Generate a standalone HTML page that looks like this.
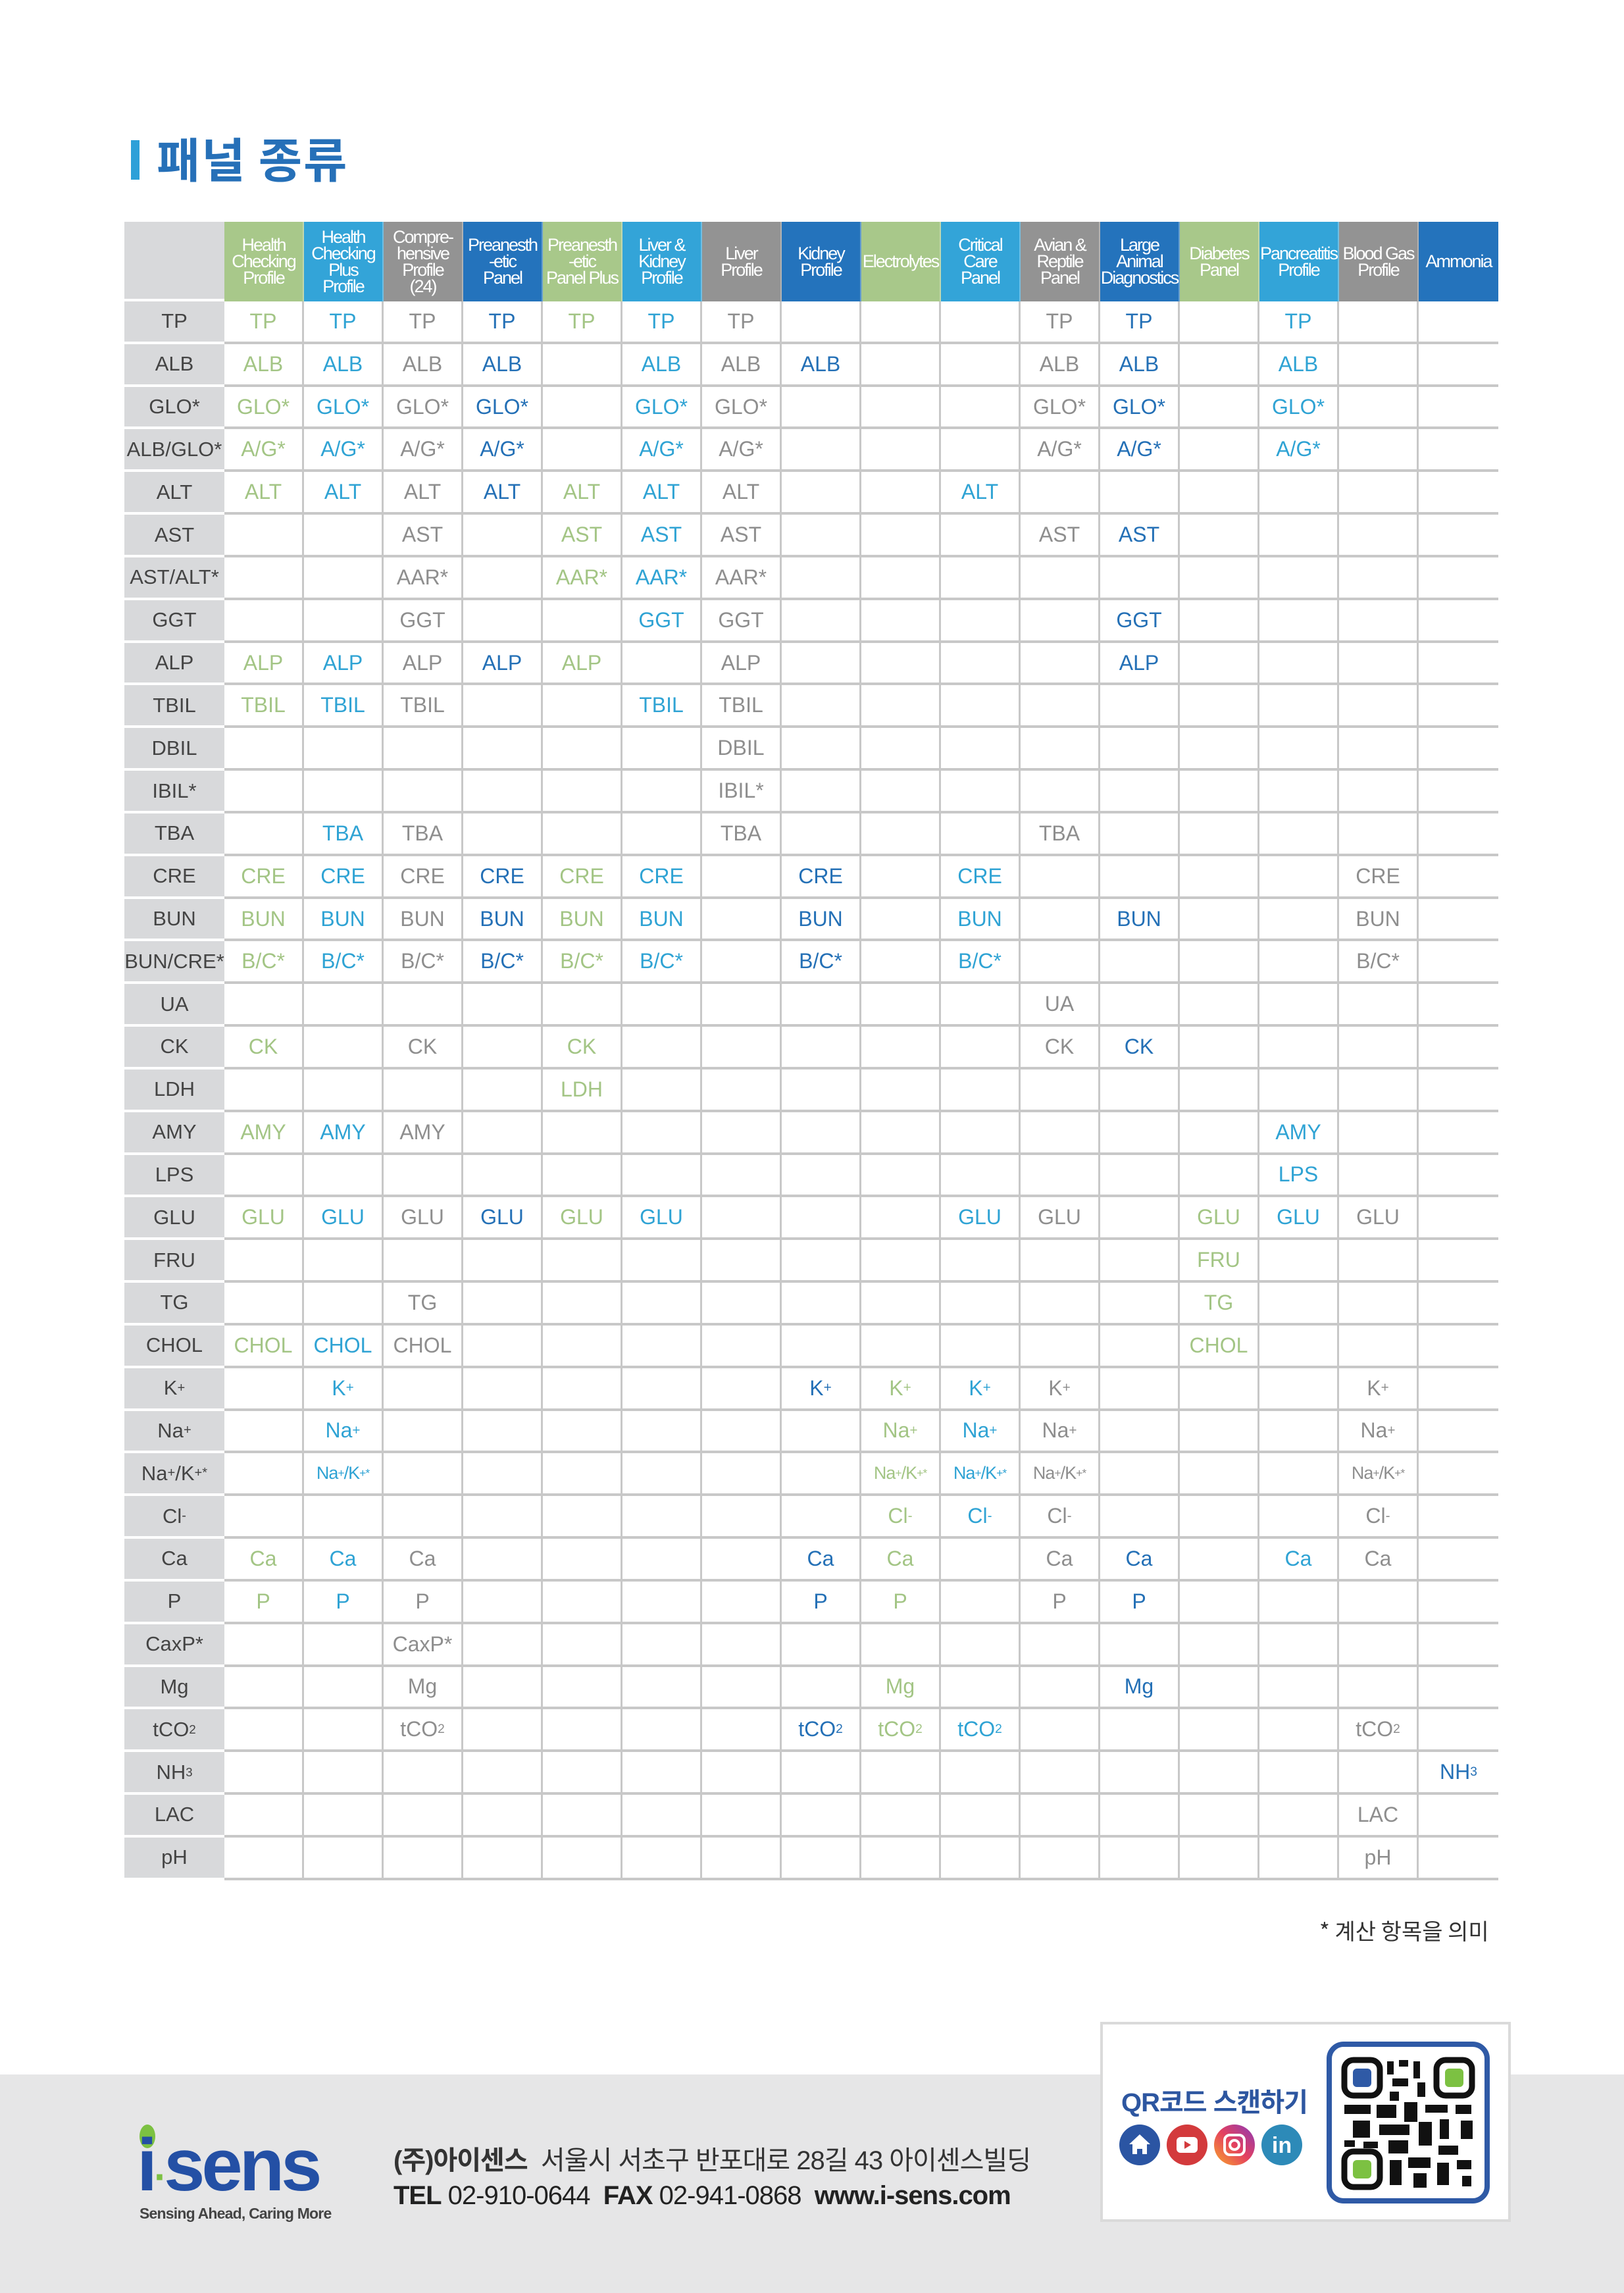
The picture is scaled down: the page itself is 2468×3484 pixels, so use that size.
<!DOCTYPE html>
<html><head><meta charset="utf-8">
<style>
*{margin:0;padding:0;box-sizing:border-box}
body{width:2468px;height:3484px;background:#fff;position:relative;overflow:hidden;font-family:"Liberation Sans","Noto Sans CJK KR",sans-serif}
.bar{position:absolute;left:199px;top:213px;width:13px;height:60px;background:#2ea0d8}
.title{position:absolute;left:238px;top:194px;font-size:72px;font-weight:bold;color:#2670b8;letter-spacing:2px;font-family:"Noto Sans CJK KR",sans-serif;line-height:90px}
.g{position:absolute;left:189px;top:337px;display:grid;grid-template-columns:152px repeat(16,121px);grid-template-rows:121px repeat(37,64.84px)}
.g>*{display:flex;align-items:center;justify-content:center;font-style:normal;font-weight:normal;font-size:32px;border-right:3px solid #c8c8c8;border-bottom:4px solid #c8c8c8;text-align:center;white-space:nowrap}
.g>*:nth-child(17n){border-right:0}
.g>b{background:#d8d9db;color:#444;border-right:0;border-bottom:4px solid #fff;font-size:31px}
.g>u{text-decoration:none;color:#fff;font-size:27px;line-height:25px;letter-spacing:-2px;border-right:2px solid rgba(255,255,255,.3);border-bottom:0;white-space:nowrap;padding:0}
.hg{background:#a8c88a}.hl{background:#33a4d8}.hy{background:#939393}.hd{background:#2473bc}
.c1{color:#a3c585}.c2{color:#2fa3d4}.c3{color:#8e8e8e}.c4{color:#2470b6}
.s{font-size:27px!important;letter-spacing:-1px}
sup{font-size:0.65em;vertical-align:0.55em}sub{font-size:0.6em;vertical-align:-0.25em}
.note{position:absolute;left:2005px;top:2908px;font-size:34px;color:#333;font-family:"Noto Sans CJK KR",sans-serif}
.foot{position:absolute;left:0;top:3152px;width:2468px;height:332px;background:#e6e6e7}
.qrbox{position:absolute;left:1672px;top:3072px;width:624px;height:304px;background:#fff;border:4px solid #dadada}
</style></head><body>
<div class="bar"></div>
<div class="title">패널 종류</div>
<div class="g">
<b></b>
<u class="hg">Health<br>Checking<br>Profile</u>
<u class="hl">Health<br>Checking<br>Plus<br>Profile</u>
<u class="hy">Compre-<br>hensive<br>Profile<br>(24)</u>
<u class="hd">Preanesth<br>-etic<br>Panel</u>
<u class="hg">Preanesth<br>-etic<br>Panel Plus</u>
<u class="hl">Liver &amp;<br>Kidney<br>Profile</u>
<u class="hy">Liver<br>Profile</u>
<u class="hd">Kidney<br>Profile</u>
<u class="hg">Electrolytes</u>
<u class="hl">Critical<br>Care<br>Panel</u>
<u class="hy">Avian &amp;<br>Reptile<br>Panel</u>
<u class="hd">Large<br>Animal<br>Diagnostics</u>
<u class="hg">Diabetes<br>Panel</u>
<u class="hl">Pancreatitis<br>Profile</u>
<u class="hy">Blood Gas<br>Profile</u>
<u class="hd">Ammonia</u>

<b>TP</b><i class=c1>TP</i><i class=c2>TP</i><i class=c3>TP</i><i class=c4>TP</i><i class=c1>TP</i><i class=c2>TP</i><i class=c3>TP</i><i></i><i></i><i></i><i class=c3>TP</i><i class=c4>TP</i><i></i><i class=c2>TP</i><i></i><i></i>
<b>ALB</b><i class=c1>ALB</i><i class=c2>ALB</i><i class=c3>ALB</i><i class=c4>ALB</i><i></i><i class=c2>ALB</i><i class=c3>ALB</i><i class=c4>ALB</i><i></i><i></i><i class=c3>ALB</i><i class=c4>ALB</i><i></i><i class=c2>ALB</i><i></i><i></i>
<b>GLO*</b><i class=c1>GLO*</i><i class=c2>GLO*</i><i class=c3>GLO*</i><i class=c4>GLO*</i><i></i><i class=c2>GLO*</i><i class=c3>GLO*</i><i></i><i></i><i></i><i class=c3>GLO*</i><i class=c4>GLO*</i><i></i><i class=c2>GLO*</i><i></i><i></i>
<b>ALB/GLO*</b><i class=c1>A/G*</i><i class=c2>A/G*</i><i class=c3>A/G*</i><i class=c4>A/G*</i><i></i><i class=c2>A/G*</i><i class=c3>A/G*</i><i></i><i></i><i></i><i class=c3>A/G*</i><i class=c4>A/G*</i><i></i><i class=c2>A/G*</i><i></i><i></i>
<b>ALT</b><i class=c1>ALT</i><i class=c2>ALT</i><i class=c3>ALT</i><i class=c4>ALT</i><i class=c1>ALT</i><i class=c2>ALT</i><i class=c3>ALT</i><i></i><i></i><i class=c2>ALT</i><i></i><i></i><i></i><i></i><i></i><i></i>
<b>AST</b><i></i><i></i><i class=c3>AST</i><i></i><i class=c1>AST</i><i class=c2>AST</i><i class=c3>AST</i><i></i><i></i><i></i><i class=c3>AST</i><i class=c4>AST</i><i></i><i></i><i></i><i></i>
<b>AST/ALT*</b><i></i><i></i><i class=c3>AAR*</i><i></i><i class=c1>AAR*</i><i class=c2>AAR*</i><i class=c3>AAR*</i><i></i><i></i><i></i><i></i><i></i><i></i><i></i><i></i><i></i>
<b>GGT</b><i></i><i></i><i class=c3>GGT</i><i></i><i></i><i class=c2>GGT</i><i class=c3>GGT</i><i></i><i></i><i></i><i></i><i class=c4>GGT</i><i></i><i></i><i></i><i></i>
<b>ALP</b><i class=c1>ALP</i><i class=c2>ALP</i><i class=c3>ALP</i><i class=c4>ALP</i><i class=c1>ALP</i><i></i><i class=c3>ALP</i><i></i><i></i><i></i><i></i><i class=c4>ALP</i><i></i><i></i><i></i><i></i>
<b>TBIL</b><i class=c1>TBIL</i><i class=c2>TBIL</i><i class=c3>TBIL</i><i></i><i></i><i class=c2>TBIL</i><i class=c3>TBIL</i><i></i><i></i><i></i><i></i><i></i><i></i><i></i><i></i><i></i>
<b>DBIL</b><i></i><i></i><i></i><i></i><i></i><i></i><i class=c3>DBIL</i><i></i><i></i><i></i><i></i><i></i><i></i><i></i><i></i><i></i>
<b>IBIL*</b><i></i><i></i><i></i><i></i><i></i><i></i><i class=c3>IBIL*</i><i></i><i></i><i></i><i></i><i></i><i></i><i></i><i></i><i></i>
<b>TBA</b><i></i><i class=c2>TBA</i><i class=c3>TBA</i><i></i><i></i><i></i><i class=c3>TBA</i><i></i><i></i><i></i><i class=c3>TBA</i><i></i><i></i><i></i><i></i><i></i>
<b>CRE</b><i class=c1>CRE</i><i class=c2>CRE</i><i class=c3>CRE</i><i class=c4>CRE</i><i class=c1>CRE</i><i class=c2>CRE</i><i></i><i class=c4>CRE</i><i></i><i class=c2>CRE</i><i></i><i></i><i></i><i></i><i class=c3>CRE</i><i></i>
<b>BUN</b><i class=c1>BUN</i><i class=c2>BUN</i><i class=c3>BUN</i><i class=c4>BUN</i><i class=c1>BUN</i><i class=c2>BUN</i><i></i><i class=c4>BUN</i><i></i><i class=c2>BUN</i><i></i><i class=c4>BUN</i><i></i><i></i><i class=c3>BUN</i><i></i>
<b>BUN/CRE*</b><i class=c1>B/C*</i><i class=c2>B/C*</i><i class=c3>B/C*</i><i class=c4>B/C*</i><i class=c1>B/C*</i><i class=c2>B/C*</i><i></i><i class=c4>B/C*</i><i></i><i class=c2>B/C*</i><i></i><i></i><i></i><i></i><i class=c3>B/C*</i><i></i>
<b>UA</b><i></i><i></i><i></i><i></i><i></i><i></i><i></i><i></i><i></i><i></i><i class=c3>UA</i><i></i><i></i><i></i><i></i><i></i>
<b>CK</b><i class=c1>CK</i><i></i><i class=c3>CK</i><i></i><i class=c1>CK</i><i></i><i></i><i></i><i></i><i></i><i class=c3>CK</i><i class=c4>CK</i><i></i><i></i><i></i><i></i>
<b>LDH</b><i></i><i></i><i></i><i></i><i class=c1>LDH</i><i></i><i></i><i></i><i></i><i></i><i></i><i></i><i></i><i></i><i></i><i></i>
<b>AMY</b><i class=c1>AMY</i><i class=c2>AMY</i><i class=c3>AMY</i><i></i><i></i><i></i><i></i><i></i><i></i><i></i><i></i><i></i><i></i><i class=c2>AMY</i><i></i><i></i>
<b>LPS</b><i></i><i></i><i></i><i></i><i></i><i></i><i></i><i></i><i></i><i></i><i></i><i></i><i></i><i class=c2>LPS</i><i></i><i></i>
<b>GLU</b><i class=c1>GLU</i><i class=c2>GLU</i><i class=c3>GLU</i><i class=c4>GLU</i><i class=c1>GLU</i><i class=c2>GLU</i><i></i><i></i><i></i><i class=c2>GLU</i><i class=c3>GLU</i><i></i><i class=c1>GLU</i><i class=c2>GLU</i><i class=c3>GLU</i><i></i>
<b>FRU</b><i></i><i></i><i></i><i></i><i></i><i></i><i></i><i></i><i></i><i></i><i></i><i></i><i class=c1>FRU</i><i></i><i></i><i></i>
<b>TG</b><i></i><i></i><i class=c3>TG</i><i></i><i></i><i></i><i></i><i></i><i></i><i></i><i></i><i></i><i class=c1>TG</i><i></i><i></i><i></i>
<b>CHOL</b><i class=c1>CHOL</i><i class=c2>CHOL</i><i class=c3>CHOL</i><i></i><i></i><i></i><i></i><i></i><i></i><i></i><i></i><i></i><i class=c1>CHOL</i><i></i><i></i><i></i>
<b>K<sup>+</sup></b><i></i><i class=c2>K<sup>+</sup></i><i></i><i></i><i></i><i></i><i></i><i class=c4>K<sup>+</sup></i><i class=c1>K<sup>+</sup></i><i class=c2>K<sup>+</sup></i><i class=c3>K<sup>+</sup></i><i></i><i></i><i></i><i class=c3>K<sup>+</sup></i><i></i>
<b>Na<sup>+</sup></b><i></i><i class=c2>Na<sup>+</sup></i><i></i><i></i><i></i><i></i><i></i><i></i><i class=c1>Na<sup>+</sup></i><i class=c2>Na<sup>+</sup></i><i class=c3>Na<sup>+</sup></i><i></i><i></i><i></i><i class=c3>Na<sup>+</sup></i><i></i>
<b>Na<sup>+</sup>/K<sup>+*</sup></b><i></i><i class="c2 s">Na<sup>+</sup>/K<sup>+*</sup></i><i></i><i></i><i></i><i></i><i></i><i></i><i class="c1 s">Na<sup>+</sup>/K<sup>+*</sup></i><i class="c2 s">Na<sup>+</sup>/K<sup>+*</sup></i><i class="c3 s">Na<sup>+</sup>/K<sup>+*</sup></i><i></i><i></i><i></i><i class="c3 s">Na<sup>+</sup>/K<sup>+*</sup></i><i></i>
<b>Cl<sup>-</sup></b><i></i><i></i><i></i><i></i><i></i><i></i><i></i><i></i><i class=c1>Cl<sup>-</sup></i><i class=c2>Cl<sup>-</sup></i><i class=c3>Cl<sup>-</sup></i><i></i><i></i><i></i><i class=c3>Cl<sup>-</sup></i><i></i>
<b>Ca</b><i class=c1>Ca</i><i class=c2>Ca</i><i class=c3>Ca</i><i></i><i></i><i></i><i></i><i class=c4>Ca</i><i class=c1>Ca</i><i></i><i class=c3>Ca</i><i class=c4>Ca</i><i></i><i class=c2>Ca</i><i class=c3>Ca</i><i></i>
<b>P</b><i class=c1>P</i><i class=c2>P</i><i class=c3>P</i><i></i><i></i><i></i><i></i><i class=c4>P</i><i class=c1>P</i><i></i><i class=c3>P</i><i class=c4>P</i><i></i><i></i><i></i><i></i>
<b>CaxP*</b><i></i><i></i><i class=c3>CaxP*</i><i></i><i></i><i></i><i></i><i></i><i></i><i></i><i></i><i></i><i></i><i></i><i></i><i></i>
<b>Mg</b><i></i><i></i><i class=c3>Mg</i><i></i><i></i><i></i><i></i><i></i><i class=c1>Mg</i><i></i><i></i><i class=c4>Mg</i><i></i><i></i><i></i><i></i>
<b>tCO<sub>2</sub></b><i></i><i></i><i class=c3>tCO<sub>2</sub></i><i></i><i></i><i></i><i></i><i class=c4>tCO<sub>2</sub></i><i class=c1>tCO<sub>2</sub></i><i class=c2>tCO<sub>2</sub></i><i></i><i></i><i></i><i></i><i class=c3>tCO<sub>2</sub></i><i></i>
<b>NH<sub>3</sub></b><i></i><i></i><i></i><i></i><i></i><i></i><i></i><i></i><i></i><i></i><i></i><i></i><i></i><i></i><i></i><i class=c4>NH<sub>3</sub></i>
<b>LAC</b><i></i><i></i><i></i><i></i><i></i><i></i><i></i><i></i><i></i><i></i><i></i><i></i><i></i><i></i><i class=c3>LAC</i><i></i>
<b>pH</b><i></i><i></i><i></i><i></i><i></i><i></i><i></i><i></i><i></i><i></i><i></i><i></i><i></i><i></i><i class=c3>pH</i><i></i>
</div>
<div class="note">* 계산 항목을 의미</div>

<div class="foot"></div>
<div style="position:absolute;left:212px;top:3228px;width:24px;height:36px;border-radius:50%;background:#7cc142"></div>
<div style="position:absolute;left:208px;top:3234px;font-size:112px;font-weight:bold;color:#2450a5;letter-spacing:-5px;line-height:112px">i<span style="color:#7cc142;font-size:60px">·</span>sens</div>
<div style="position:absolute;left:212px;top:3350px;font-size:23px;font-weight:bold;color:#444;letter-spacing:-0.8px">Sensing Ahead, Caring More</div>
<div style="position:absolute;left:598px;top:3250px;font-size:40px;color:#333;letter-spacing:-1px"><b>(주)아이센스</b>&nbsp; 서울시 서초구 반포대로 28길 43 아이센스빌딩</div>
<div style="position:absolute;left:598px;top:3314px;font-size:40px;color:#222;letter-spacing:-1px"><b>TEL</b> 02-910-0644&nbsp; <b>FAX</b> 02-941-0868&nbsp; <b>www.i-sens.com</b></div>

<div class="qrbox"></div>
<div style="position:absolute;left:1704px;top:3162px;font-size:40px;font-weight:bold;color:#2d56a0;letter-spacing:-1px">QR코드 스캔하기</div>
<svg style="position:absolute;left:1700px;top:3225px" width="280" height="68">
<circle cx="32" cy="34" r="31" fill="#2b55a3"/><path d="M32 18 L48 33 H43 V48 H36 V40 H28 V48 H21 V33 H16Z" fill="#fff"/>
<circle cx="104" cy="34" r="31" fill="#d33a3c"/><rect x="88" y="22" width="32" height="24" rx="6" fill="#fff"/><path d="M100 28 L110 34 L100 40Z" fill="#d33a3c"/>
<defs><linearGradient id="ig" x1="0" y1="1" x2="1" y2="0"><stop offset="0" stop-color="#f9a62b"/><stop offset=".5" stop-color="#e4405f"/><stop offset="1" stop-color="#8a3ab9"/></linearGradient></defs>
<circle cx="176" cy="34" r="31" fill="url(#ig)"/><rect x="161" y="19" width="30" height="30" rx="8" fill="none" stroke="#fff" stroke-width="4"/><circle cx="176" cy="34" r="7" fill="none" stroke="#fff" stroke-width="4"/>
<circle cx="248" cy="34" r="31" fill="#2d8ab8"/><text x="248" y="46" font-size="34" font-weight="bold" fill="#fff" text-anchor="middle" font-family="Liberation Sans">in</text>
</svg>
<svg style="position:absolute;left:2016px;top:3102px" width="248" height="246">
<rect x="4" y="4" width="240" height="238" rx="22" fill="#fff" stroke="#2f5aa6" stroke-width="8"/>
<g fill="#111">
<rect x="27" y="28" width="54" height="54" rx="14" fill="none" stroke="#111" stroke-width="9"/>
<rect x="167" y="28" width="54" height="54" rx="14" fill="none" stroke="#111" stroke-width="9"/>
<rect x="27" y="167" width="54" height="54" rx="14" fill="none" stroke="#111" stroke-width="9"/>
<rect x="92" y="30" width="10" height="20"/><rect x="110" y="28" width="14" height="10"/><rect x="132" y="30" width="10" height="26"/><rect x="100" y="56" width="24" height="12"/><rect x="138" y="62" width="12" height="22"/><rect x="96" y="76" width="14" height="14"/>
<rect x="27" y="96" width="40" height="14"/><rect x="76" y="96" width="30" height="20"/><rect x="118" y="92" width="20" height="30"/><rect x="150" y="96" width="34" height="12"/><rect x="196" y="96" width="24" height="14"/>
<rect x="40" y="120" width="26" height="26"/><rect x="80" y="126" width="46" height="16"/><rect x="140" y="122" width="20" height="36"/><rect x="172" y="118" width="14" height="30"/><rect x="204" y="120" width="18" height="28"/>
<rect x="27" y="150" width="16" height="10"/><rect x="56" y="152" width="22" height="10"/><rect x="94" y="150" width="30" height="20"/><rect x="170" y="158" width="30" height="14"/>
<rect x="96" y="180" width="18" height="38"/><rect x="124" y="176" width="34" height="16"/><rect x="132" y="200" width="20" height="22"/><rect x="168" y="184" width="18" height="34"/><rect x="198" y="180" width="22" height="14"/><rect x="206" y="204" width="14" height="16"/>
</g>
<rect x="40" y="41" width="28" height="28" rx="6" fill="#2f5aa6"/>
<rect x="180" y="41" width="28" height="28" rx="6" fill="#7cc142"/>
<rect x="40" y="180" width="28" height="28" rx="6" fill="#7cc142"/>
</svg>
</body></html>
